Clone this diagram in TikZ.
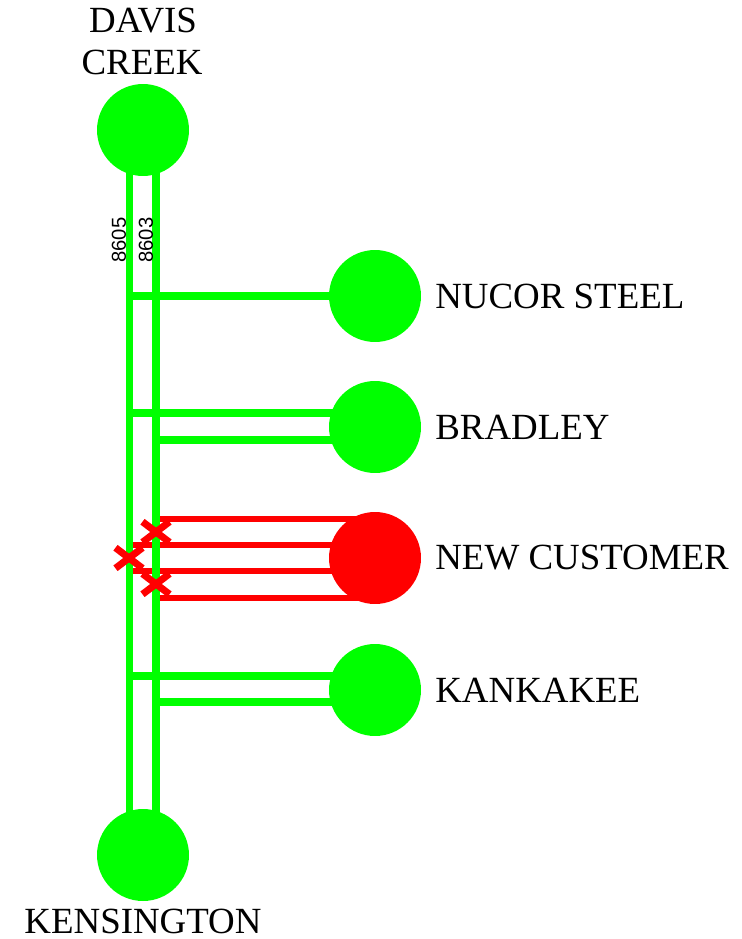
\documentclass[tikz,border=0pt]{standalone}
\usepackage{fontspec}
\setmainfont{Liberation Serif}
\newfontfamily\linefont{Liberation Sans}
\usetikzlibrary{shapes,positioning,calc}

\tikzset{
  bus/.style={circle, fill=green, minimum size=1.84cm, inner sep=0pt},
  newbus/.style={circle, fill=red, minimum size=1.84cm, inner sep=0pt},
  busname/.style={font=\fontsize{21}{21}\selectfont, inner sep=0pt},
  greenline/.style={draw=green, line width=4pt},
  redline/.style={draw=red, line width=3.6pt},
  breaker/.style={cross out, draw=red, line width=4pt, minimum width=.4cm, minimum height=.27cm, inner sep=0pt},
  linename/.style={font=\linefont\fontsize{11.5}{11.5}\selectfont, rotate=90, inner sep=0pt}
}

\begin{document}
\begin{tikzpicture}[x=.02cm, y=-.02cm]
\useasboundingbox (0,0) rectangle (742,939);
\node (davis) [bus] at (143,130) {};
\node (kensington) [bus] at (143,855) {};
\node (nucor) [bus] at (375,296) {};
\node (bradley) [bus] at (375,427) {};
\node (customer) [newbus] at (375,558) {};
\node (kankakee) [bus] at (375,690) {};
\node (davistext) [busname] at (143,21) {DAVIS};
\node (creektext) [busname] at (142,62) {CREEK};
\node (kensingtontext) [busname] at (143,921) {KENSINGTON};
\node (nucortext) [busname, anchor=west] at (435,296) {NUCOR STEEL};
\node (bradleytext) [busname, anchor=west] at (435,427) {BRADLEY};
\node (customertext) [busname, anchor=west] at (435,558) {NEW CUSTOMER};
\node (kankakeetext) [busname, anchor=west] at (435,690) {KANKAKEE};
% line ends on the two circuits
\coordinate (a0) at (129.5,130);
\coordinate (a1) at (129.5,855);
\coordinate (b0) at (156,130);
\coordinate (b1) at (156,855);
\coordinate (an) at (129.5,296);
\coordinate (ab) at (129.5,413);
\coordinate (bb) at (156,440);
\coordinate (ac) at (129.5,545);
\coordinate (ad) at (129.5,571);
\coordinate (bc) at (160,519);
\coordinate (bd) at (160,598);
\coordinate (ak) at (129.5,676);
\coordinate (bk) at (156,702);
\draw[redline] (bc) -- (bc -| customer);
\draw[redline] (ac) -- (ac -| customer);
\draw[redline] (ad) -- (ad -| customer);
\draw[redline] (bd) -- (bd -| customer);
\draw[greenline] (a0) -- (a1);
\draw[greenline] (b0) -- (b1);
\draw[greenline] (an) -- (nucor);
\draw[greenline] (ab) -- (ab -| bradley);
\draw[greenline] (bb) -- (bb -| bradley);
\draw[greenline] (ak) -- (ak -| kankakee);
\draw[greenline] (bk) -- (bk -| kankakee);
\node (x1) [breaker] at (156,532) {};
\node (x2) [breaker] at (129,558) {};
\node (x3) [breaker] at (156,584) {};
\node (l8605) [linename] at (119,240) {8605};
\node (l8603) [linename] at (146,240) {8603};
\end{tikzpicture}
\end{document}
